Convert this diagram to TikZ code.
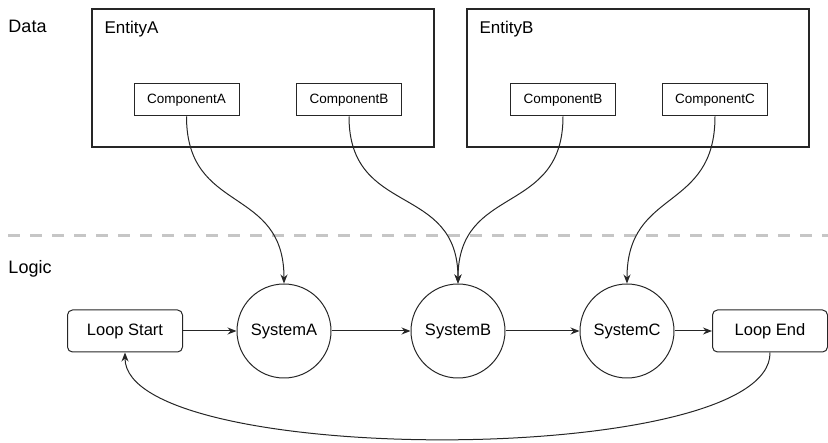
\documentclass[tikz,border=0pt]{standalone}
\usepackage{fontspec}
\setmainfont{Liberation Sans}
\usetikzlibrary{arrows.meta}

\begin{document}
\begin{tikzpicture}[x=1pt, y=-1pt,
                    line width=1pt,
                    draw=black!85,
                    >={Stealth[length=9pt,width=7pt]}]
    \tikzstyle{layer}=[font=\fontsize{18}{20}\selectfont, anchor=west, inner sep=0pt]
    \tikzstyle{entity}=[draw=black!85, line width=1.1pt, minimum width=342pt, minimum height=138pt, inner sep=0pt]
    \tikzstyle{entitylabel}=[font=\fontsize{17}{19}\selectfont, anchor=west, inner sep=0pt]
    \tikzstyle{component}=[draw=black!85, minimum width=105pt, minimum height=32pt, inner sep=0pt, font=\fontsize{13.5}{15}\selectfont];
    \tikzstyle{system}=[draw=black!85, circle, minimum size=94pt, inner sep=0pt, font=\fontsize{16.5}{18}\selectfont];
    \tikzstyle{loopbox}=[draw=black!85, rounded corners=5pt, minimum width=115pt, minimum height=42pt, inner sep=0pt, font=\fontsize{16.5}{18}\selectfont];
    \tikzstyle{flow}=[->, draw=black!85, line width=1pt];
    \tikzstyle{divider}=[draw=gray!45, line width=3pt, dash pattern=on 12pt off 10pt];

    \useasboundingbox (0,0) rectangle (828,443);

    % data side
    \node[layer] (data) at (8,26) {Data};
    \node[entity] (entA) at (263,78) {};
    \node[entity] (entB) at (638,78) {};
    \node[entitylabel] (entAname) at (104,29) {EntityA};
    \node[entitylabel] (entBname) at (479,29) {EntityB};
    \node[component] (compA)  at (186.5,100) {ComponentA};
    \node[component] (compAB) at (349,100)   {ComponentB};
    \node[component] (compBB) at (563,100)   {ComponentB};
    \node[component] (compC)  at (715,100)   {ComponentC};

    \coordinate (sepL) at (8,236);
    \coordinate (sepR) at (828,236);
    \draw[divider] (sepL) -- (sepR);

    % logic side
    \node[layer] (logic) at (8,269) {Logic};
    \node[loopbox] (start) at (125,331) {Loop Start};
    \node[system] (sysA) at (284,331) {SystemA};
    \node[system] (sysB) at (458,331) {SystemB};
    \node[system] (sysC) at (627,331) {SystemC};
    \node[loopbox] (end) at (770,331) {Loop End};

    \draw[flow] (start) -- (sysA);
    \draw[flow] (sysA) -- (sysB);
    \draw[flow] (sysB) -- (sysC);
    \draw[flow] (sysC) -- (end);

    \draw[flow] (compA.south)  to[out=-90, in=90, looseness=1.3] (sysA.north);
    \draw[flow] (compAB.south) to[out=-90, in=90, looseness=1.3] (sysB.north);
    \draw[flow] (compBB.south) to[out=-90, in=90, looseness=1.3] (sysB.north);
    \draw[flow] (compC.south)  to[out=-90, in=90, looseness=1.3] (sysC.north);

    \draw[flow] (end.south) .. controls (772,468) and (125,468) .. (start.south);
\end{tikzpicture}
\end{document}
